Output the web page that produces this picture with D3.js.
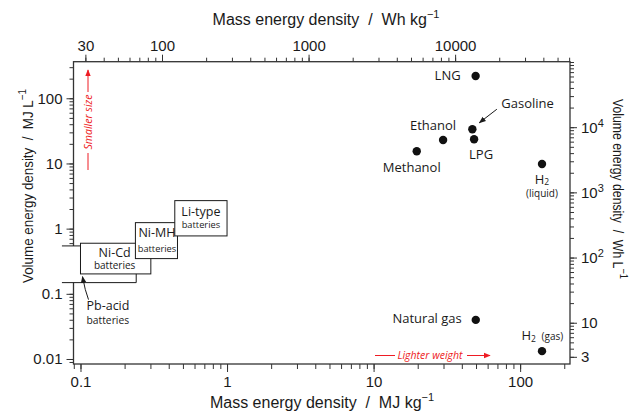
<!DOCTYPE html>
<html>
<head>
<meta charset="utf-8">
<script src="https://cdn.jsdelivr.net/npm/d3@7"></script>
<style>
  body { margin: 0; background: #fff; }
  svg text { font-family: "Liberation Sans", Arial, sans-serif; fill: #1a1a1a; }
  svg text.ann { font-family: "Open Sans", sans-serif; }
</style>
</head>
<body>
<svg id="chart" width="630" height="413"></svg>
<script>
// fuels: mass energy density (MJ/kg) and volume energy density (MJ/L)
const fuelNames = ["LNG", "Gasoline", "LPG", "Ethanol", "Methanol", "H2 liquid", "Natural gas", "H2 gas"];
const fuelMass = [49.7, 47.2, 48.5, 29.8, 19.7, 141, 49.8, 141];
const fuelVolume = [220, 33.5, 23.5, 22.9, 15.4, 9.8, 0.0398, 0.0132];

// batteries: [min, max] ranges
const batteryNames = ["Pb-acid", "Ni-Cd", "Ni-MH", "Li-type"];
const batteryMass = [[0.0747, 0.24], [0.1, 0.302], [0.237, 0.459], [0.44, 1.0]];
const batteryVolume = [[0.1485, 0.543], [0.202, 0.597], [0.347, 1.236], [0.773, 2.69]];

const bottomTicks = [0.1, 1, 10, 100];
const leftTicks = [0.01, 0.1, 1, 10, 100];
const topTicks = [30, 100, 1000, 10000];
const rightTicks = [3, 10, 100, 1000, 10000];

const WH_PER_MJ = 1000 / 3.6;

// label placement (pixel offsets from the dot)
const fuelLabel = {
  "LNG":         {dx: -15, dy: 4.5, anchor: "end"},
  "Gasoline":    {dx: 29,  dy: -21.5, anchor: "start"},
  "LPG":         {dx: 7,   dy: 20, anchor: "middle"},
  "Ethanol":     {dx: -10, dy: -10, anchor: "middle"},
  "Methanol":    {dx: -5,  dy: 21, anchor: "middle"},
  "Natural gas": {dx: -14, dy: 3.5, anchor: "end"}
};

const svg = d3.select("#chart");
const plotL = 73.5, plotR = 570, plotT = 61.7, plotB = 364;

const x = d3.scaleLog().domain([0.0896, 218.9]).range([plotL, plotR]);
const y = d3.scaleLog().domain([0.00838, 364]).range([plotB, plotT]);
const xTop = d3.scaleLog().domain(x.domain().map(d => d * WH_PER_MJ)).range([plotL, plotR]);
const yRight = d3.scaleLog().domain(y.domain().map(d => d * WH_PER_MJ)).range([plotB, plotT]);

function minorTicks(scale) {
  const [lo, hi] = scale.domain();
  let out = [];
  for (let e = Math.floor(Math.log10(lo)); e <= Math.ceil(Math.log10(hi)); e++) {
    for (let k = 1; k <= 9; k++) {
      const v = +(k * Math.pow(10, e)).toPrecision(6);
      if (v >= lo && v <= hi) out.push(v);
    }
  }
  return out;
}

// defs: arrow heads
const defs = svg.append("defs");
[["arrowBlack", "#1a1a1a"], ["arrowRed", "#ee1c24"]].forEach(([id, c]) => {
  defs.append("marker").attr("id", id)
    .attr("viewBox", "0 0 10 10").attr("refX", 9).attr("refY", 5)
    .attr("markerWidth", 7).attr("markerHeight", 7)
    .attr("markerUnits", "userSpaceOnUse").attr("orient", "auto")
    .append("path").attr("d", "M0,1 L10,5 L0,9 Z").attr("fill", c);
});

function drawAxis(axisFn, scale, transform, major, fmt, majorLen, minorLen) {
  const gMinor = svg.append("g").attr("transform", transform)
    .call(axisFn(scale).tickValues(minorTicks(scale)).tickSize(minorLen).tickFormat(""));
  gMinor.select(".domain").remove();
  const gMajor = svg.append("g").attr("transform", transform)
    .call(axisFn(scale).tickValues(major).tickSize(majorLen).tickPadding(4).tickFormat(fmt));
  gMajor.select(".domain").remove();
  svg.selectAll(".tick line").attr("stroke", "#333").attr("stroke-width", 1);
  gMajor.selectAll("text").attr("font-size", 15).attr("fill", "#1a1a1a")
    .style("font-family", '"Liberation Sans", Arial, sans-serif');
  return gMajor;
}

drawAxis(d3.axisBottom, x, `translate(0,${plotB})`, bottomTicks, d => String(d), 8, 5);
drawAxis(d3.axisLeft, y, `translate(${plotL},0)`, leftTicks, d => String(d), 7, 4);
drawAxis(d3.axisTop, xTop, `translate(0,${plotT})`, topTicks, d => String(d), 7, 4);
const gRight = drawAxis(d3.axisRight, yRight, `translate(${plotR},0)`, rightTicks, d => String(d), 7, 4);
gRight.selectAll(".tick text").each(function(d) {
  const t = d3.select(this);
  const e = Math.round(Math.log10(d));
  if (d >= 100) {
    t.text("10");
    t.append("tspan").attr("dy", -6).attr("font-size", 11).text(e);
  }
});

// frame
svg.append("rect").attr("x", plotL).attr("y", plotT)
  .attr("width", plotR - plotL).attr("height", plotB - plotT)
  .attr("fill", "none").attr("stroke", "#333").attr("stroke-width", 1.3);

// axis titles
function title(g, text, len) {
  g.text(text).append("tspan").attr("dy", -7).attr("font-size", 11).text("\u22121");
  if (len) g.attr("textLength", len).attr("lengthAdjust", "spacingAndGlyphs");
}
title(svg.append("text").attr("x", 322).attr("y", 408).attr("text-anchor", "middle")
  .attr("font-size", 16), "Mass energy density \u00a0/\u00a0 MJ kg");
title(svg.append("text").attr("x", 326).attr("y", 25).attr("text-anchor", "middle")
  .attr("font-size", 16), "Mass energy density \u00a0/\u00a0 Wh kg");
title(svg.append("text").attr("transform", "translate(33,186) rotate(-90)").attr("text-anchor", "middle")
  .attr("font-size", 15), "Volume energy density \u00a0/\u00a0 MJ L", 194);
title(svg.append("text").attr("transform", "translate(613,189) rotate(90)").attr("text-anchor", "middle")
  .attr("font-size", 14.5), "Volume energy density \u00a0/\u00a0 Wh L", 180);

// batteries
const boxes = svg.append("g");
batteryNames.forEach((name, i) => {
  const x0 = x(batteryMass[i][0]), x1 = x(batteryMass[i][1]);
  const y0 = y(batteryVolume[i][1]), y1 = y(batteryVolume[i][0]);
  boxes.append("rect").attr("x", x0).attr("y", y0)
    .attr("width", x1 - x0).attr("height", y1 - y0)
    .attr("fill", "#fff").attr("stroke", i === 0 ? "none" : "#1a1a1a").attr("stroke-width", 1);
  if (i === 0) {
    boxes.append("path").attr("d", `M${x0},${y0} H${x1} V${y1} H${x0}`)
      .attr("fill", "none").attr("stroke", "#1a1a1a").attr("stroke-width", 1);
  }
});

function batteryLabel(i, cx, yTop, s1, s2, d1, d2) {
  const name = batteryNames[i];
  boxes.append("text").attr("class", "ann").attr("x", cx).attr("y", yTop + d1)
    .attr("text-anchor", "middle").attr("font-size", s1).text(name);
  boxes.append("text").attr("class", "ann").attr("x", cx).attr("y", yTop + d2)
    .attr("text-anchor", "middle").attr("font-size", s2).text("batteries");
}
const bx = i => (x(batteryMass[i][0]) + x(batteryMass[i][1])) / 2;
const by = i => y(batteryVolume[i][1]);
batteryLabel(1, bx(1) - 1, by(1), 12.5, 10, 13.5, 26);
batteryLabel(2, bx(2) + 0.5, by(2), 12.5, 9.3, 14, 29);
batteryLabel(3, bx(3), by(3), 12.5, 9.3, 15.5, 27.5);

// Pb-acid label + arrow
const pbY = y(batteryVolume[0][0]);
svg.append("text").attr("class", "ann").attr("x", 86.5).attr("y", pbY + 27.5)
  .attr("font-size", 12.5).text("Pb-acid");
svg.append("text").attr("class", "ann").attr("x", 86.5).attr("y", pbY + 41.5)
  .attr("font-size", 10.3).text("batteries");
svg.append("path").attr("d", `M88.5,${pbY + 17} Q85,${pbY + 8} 82.5,${pbY - 6}`)
  .attr("fill", "none").attr("stroke", "#1a1a1a").attr("stroke-width", 1)
  .attr("marker-end", "url(#arrowBlack)");

// fuel dots
const fuels = fuelNames.map((n, i) => ({name: n, m: fuelMass[i], v: fuelVolume[i]}));
svg.append("g").selectAll("circle").data(fuels).join("circle")
  .attr("cx", d => x(d.m)).attr("cy", d => y(d.v)).attr("r", 4.2).attr("fill", "#111");

fuels.forEach(d => {
  const px = x(d.m), py = y(d.v);
  const lab = fuelLabel[d.name];
  if (lab) {
    svg.append("text").attr("class", "ann").attr("x", px + lab.dx).attr("y", py + lab.dy)
      .attr("text-anchor", lab.anchor).attr("font-size", 13).text(d.name);
  } else if (d.name === "H2 liquid") {
    const t = svg.append("text").attr("class", "ann").attr("x", px).attr("y", py + 19.5)
      .attr("text-anchor", "middle").attr("font-size", 13).text("H");
    t.append("tspan").attr("font-size", 8.5).attr("dy", 1.5).text("2");
    svg.append("text").attr("class", "ann").attr("x", px).attr("y", py + 33)
      .attr("text-anchor", "middle").attr("font-size", 10).text("(liquid)");
  } else if (d.name === "H2 gas") {
    const t = svg.append("text").attr("class", "ann").attr("x", px - 20.5).attr("y", py - 11)
      .attr("font-size", 13).text("H");
    t.append("tspan").attr("font-size", 8.5).attr("dy", 1.5).text("2");
    svg.append("text").attr("class", "ann").attr("x", px - 0.5).attr("y", py - 11)
      .attr("font-size", 10).text("(gas)");
  }
});

// Gasoline pointer arrow
const gx = x(fuelMass[1]), gy = y(fuelVolume[1]);
svg.append("line").attr("x1", gx + 24.5).attr("y1", gy - 20).attr("x2", gx + 7).attr("y2", gy - 6.5)
  .attr("stroke", "#1a1a1a").attr("stroke-width", 1).attr("marker-end", "url(#arrowBlack)");

// red annotations
const red = "#ee1c24";
svg.append("line").attr("x1", 88).attr("y1", 170).attr("x2", 88).attr("y2", 153)
  .attr("stroke", red).attr("stroke-width", 1);
svg.append("line").attr("x1", 88).attr("y1", 92).attr("x2", 88).attr("y2", 70)
  .attr("stroke", red).attr("stroke-width", 1).attr("marker-end", "url(#arrowRed)");
svg.append("text").attr("class", "ann").attr("transform", "translate(91.5,122) rotate(-90)")
  .attr("text-anchor", "middle").attr("font-size", 10.5).attr("font-style", "italic")
  .style("fill", red).text("Smaller size");

svg.append("line").attr("x1", 375).attr("y1", 355.5).attr("x2", 395).attr("y2", 355.5)
  .attr("stroke", red).attr("stroke-width", 1);
svg.append("line").attr("x1", 467).attr("y1", 355.5).attr("x2", 490).attr("y2", 355.5)
  .attr("stroke", red).attr("stroke-width", 1).attr("marker-end", "url(#arrowRed)");
svg.append("text").attr("class", "ann").attr("x", 430).attr("y", 359)
  .attr("text-anchor", "middle").attr("font-size", 10.5).attr("font-style", "italic")
  .style("fill", red).text("Lighter weight");
</script>
</body>
</html>
